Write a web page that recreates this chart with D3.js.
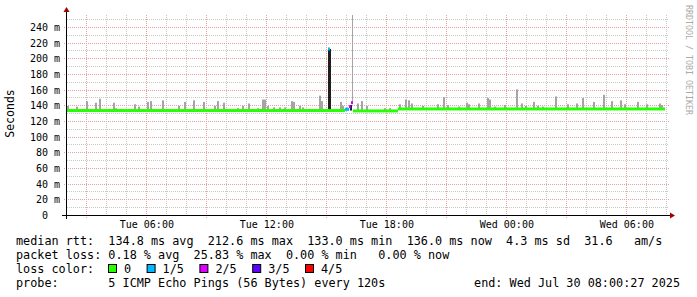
<!DOCTYPE html>
<html>
<head>
<meta charset="utf-8">
<script src="https://cdn.jsdelivr.net/npm/d3@7"></script>
<style>
  body { margin: 0; background: #fff; }
  svg { display: block; font-family: "DejaVu Sans Mono", monospace; }
  text { white-space: pre; }
</style>
</head>
<body>
<div class="main"></div>
<script>
////Globals
const width = 697;
const height = 297;
const startTime = new Date(2025, 6, 29, 2, 0, 27);
const endTime = new Date(2025, 6, 30, 8, 0, 27);

// median rtt, hours after start -> ms, lost pings (of 5)
const medianFrom = [0, 13.05, 13.15, 13.9, 14.1, 14.2, 14.3, 16.55];
const medianTo = [13.15, 13.15, 13.9, 14.1, 14.15, 14.3, 16.55, 29.9];
const medianMs = [134, 212.6, 134, 135.5, 139, 144, 133.5, 136];
const medianLoss = [0, 1, 0, 1, 2, 2, 0, 0];

// smoke: max ping per spike
const smokeHours = [0.02, 0.2, 0.45, 0.95, 1.4, 1.6, 2.3, 2.4, 3.35, 3.55, 4.0, 4.15, 4.75, 5.55, 5.9,
  6.3, 6.8, 7.35, 7.55, 7.8, 8.55, 8.75, 9.05, 9.5, 9.75, 9.85, 10.0, 10.3, 10.6, 10.85, 11.2, 11.3,
  11.6, 11.8, 12.6, 12.7, 13.65, 13.75, 13.95, 14.25, 14.5, 14.7, 14.95, 15.85, 16.1, 16.6, 16.9,
  17.1, 17.2, 17.75, 18.55, 18.85, 19.0, 19.55, 19.95, 20.05, 20.55, 21.0, 21.15, 21.35, 21.9,
  22.45, 22.7, 22.9, 23.3, 23.5, 23.75, 24.4, 25.0, 25.45, 25.75, 26.3, 26.8, 27.2, 27.65, 27.85,
  28.5, 28.95, 29.6, 29.7];
const smokeMax = [140, 136, 139, 146, 144, 149, 144, 137, 142, 139, 145, 146, 147, 140, 145,
  147, 145, 140, 146, 144, 137, 140, 143, 137, 148, 148, 140, 138, 138, 138, 146, 145,
  140, 138, 153, 146, 145, 140, 138, 256, 143, 146, 140, 137, 137, 142, 148,
  147, 143, 140, 142, 151, 141, 139, 144, 142, 143, 150, 148, 139, 141,
  161, 143, 140, 145, 140, 139, 152, 142, 143, 150, 145, 154, 146, 147, 142,
  145, 142, 143, 141];

// dense smoke (dark)
const darkHours = [13.05, 14.15];
const darkMin = [134, 134];
const darkMax = [212.6, 141];

const yMajor = d3.range(0, 241, 20);
const yMinor = d3.range(0, 251, 10);

const lossLabels = ['0', '1/5', '2/5', '3/5', '4/5'];
const lossColors = ['#26ff00', '#00b8ff', '#dd00ff', '#5e00ff', '#ff0000'];

const legendLines = [
  'median rtt:  134.8 ms avg  212.6 ms max  133.0 ms min  136.0 ms now  4.3 ms sd  31.6   am/s',
  'packet loss: 0.18 % avg  25.83 % max  0.00 % min   0.00 % now'
];
const probeText = 'probe:       5 ICMP Echo Pings (56 Bytes) every 120s';
const endText = 'end: Wed Jul 30 08:00:27 2025';

const hrs = h => new Date(+startTime + h * 3600e3);

const svg = d3.select('.main').append('svg')
  .attr('width', width)
  .attr('height', height);

const x = d3.scaleTime().domain([startTime, endTime]).range([67, 667]);
const y = d3.scaleLinear().domain([0, 255.3]).range([215.5, 15.5]);
const py = v => Math.floor(y(v)) + 0.5;
const px = t => Math.floor(x(t)) + 0.5;

svg.append('defs').append('clipPath').attr('id', 'plot')
  .append('rect').attr('x', 67).attr('y', 15).attr('width', 600).attr('height', 200.5);

// grid
const grid = svg.append('g').attr('fill', 'none').attr('stroke-dasharray', '1,1');
grid.selectAll('.hmin').data(yMinor.filter(v => v % 20)).enter().append('line')
  .attr('x1', 67).attr('x2', 669).attr('y1', py).attr('y2', py)
  .attr('stroke', '#c8c8c8');
grid.selectAll('.vmin').data(d3.timeHour.range(startTime, endTime).filter(t => t.getHours() % 3)).enter().append('line')
  .attr('x1', px).attr('x2', px).attr('y1', 15).attr('y2', 215)
  .attr('stroke', '#c8c8c8');
grid.selectAll('.hmaj').data(yMajor.filter(v => v > 0)).enter().append('line')
  .attr('x1', 64).attr('x2', 669).attr('y1', py).attr('y2', py)
  .attr('stroke', '#e8a0a0');
grid.selectAll('.vmaj').data(d3.timeHour.every(3).range(startTime, endTime)).enter().append('line')
  .attr('x1', px).attr('x2', px).attr('y1', 15).attr('y2', 218)
  .attr('stroke', '#e8a0a0');

const plot = svg.append('g').attr('clip-path', 'url(#plot)');

// smoke
const smoke = smokeHours.map((h, i) => {
  let k = medianFrom.findIndex((f, j) => h >= f && h < medianTo[j]);
  if (k < 0) k = 0;
  return { t: hrs(h), max: smokeMax[i], base: medianMs[k] };
});
plot.selectAll('.smoke').data(smoke).enter().append('rect')
  .attr('x', d => Math.floor(x(d.t)))
  .attr('y', d => y(d.max))
  .attr('width', d => d.max > 200 ? 1 : 2)
  .attr('height', d => Math.max(0, y(d.base) - y(d.max)))
  .attr('fill', '#a4a4a4');

plot.selectAll('.dark').data(darkHours).enter().append('rect')
  .attr('x', h => Math.floor(x(hrs(h))))
  .attr('y', (h, i) => y(darkMax[i]))
  .attr('width', (h, i) => i === 0 ? 3 : 2)
  .attr('height', (h, i) => y(darkMin[i]) - y(darkMax[i]))
  .attr('fill', (h, i) => i === 0 ? '#1e1e1e' : '#202050');

// median
plot.selectAll('.median').data(medianMs).enter().append('rect')
  .attr('x', (v, i) => x(hrs(medianFrom[i])))
  .attr('y', v => y(v) - 1.5)
  .attr('width', (v, i) => Math.max(1.5, x(hrs(medianTo[i])) - x(hrs(medianFrom[i]))))
  .attr('height', 3)
  .attr('fill', (v, i) => lossColors[medianLoss[i]]);

// axes
svg.append('line').attr('x1', 62).attr('x2', 671).attr('y1', 215.5).attr('y2', 215.5).attr('stroke', '#000');
svg.append('line').attr('x1', 66.5).attr('x2', 66.5).attr('y1', 219).attr('y2', 11).attr('stroke', '#000');
svg.append('path').attr('d', 'M670,212.5L675,215.5L670,218.5Z').attr('fill', '#a00000');
svg.append('path').attr('d', 'M63.5,12L66.5,7L69.5,12Z').attr('fill', '#a00000');

svg.append('g').selectAll('text').data(yMajor).enter().append('text')
  .attr('x', 60).attr('y', v => py(v) + 3.5)
  .attr('text-anchor', 'end')
  .attr('font-size', 10)
  .text(v => v === 0 ? '0  ' : v + ' m');

svg.append('g').selectAll('text').data(d3.timeHour.every(6).range(startTime, endTime)).enter().append('text')
  .attr('x', x).attr('y', 228)
  .attr('text-anchor', 'middle')
  .attr('font-size', 10)
  .text(d3.timeFormat('%a %H:%M'));

svg.append('text')
  .attr('transform', 'translate(14,113.5) rotate(-90)')
  .attr('text-anchor', 'middle')
  .attr('font-size', 11.5)
  .text('Seconds');

svg.append('text')
  .attr('transform', 'translate(686,5) rotate(90)')
  .attr('font-size', 8.3)
  .attr('fill', '#aaa')
  .text('RRDTOOL / TOBI OETIKER');

// legend
const legend = svg.append('g').attr('font-size', 11.8);
legend.selectAll('.line').data(legendLines).enter().append('text')
  .attr('x', 16).attr('y', (d, i) => 245 + i * 14)
  .text(d => d);
legend.append('text').attr('x', 16).attr('y', 273).text('loss color:');
let lx = 108;
lossLabels.forEach((lbl, i) => {
  legend.append('rect').attr('x', lx + 0.5).attr('y', 264.5).attr('width', 8).attr('height', 8)
    .attr('fill', lossColors[i]).attr('stroke', '#000');
  legend.append('text').attr('x', lx + 16).attr('y', 273).text(lbl);
  lx += 16 + lbl.length * 7.1 + 15.5;
});
legend.append('text').attr('x', 16).attr('y', 287).text(probeText);
legend.append('text').attr('x', 680).attr('y', 287).attr('text-anchor', 'end').text(endText);
</script>
</body>
</html>
